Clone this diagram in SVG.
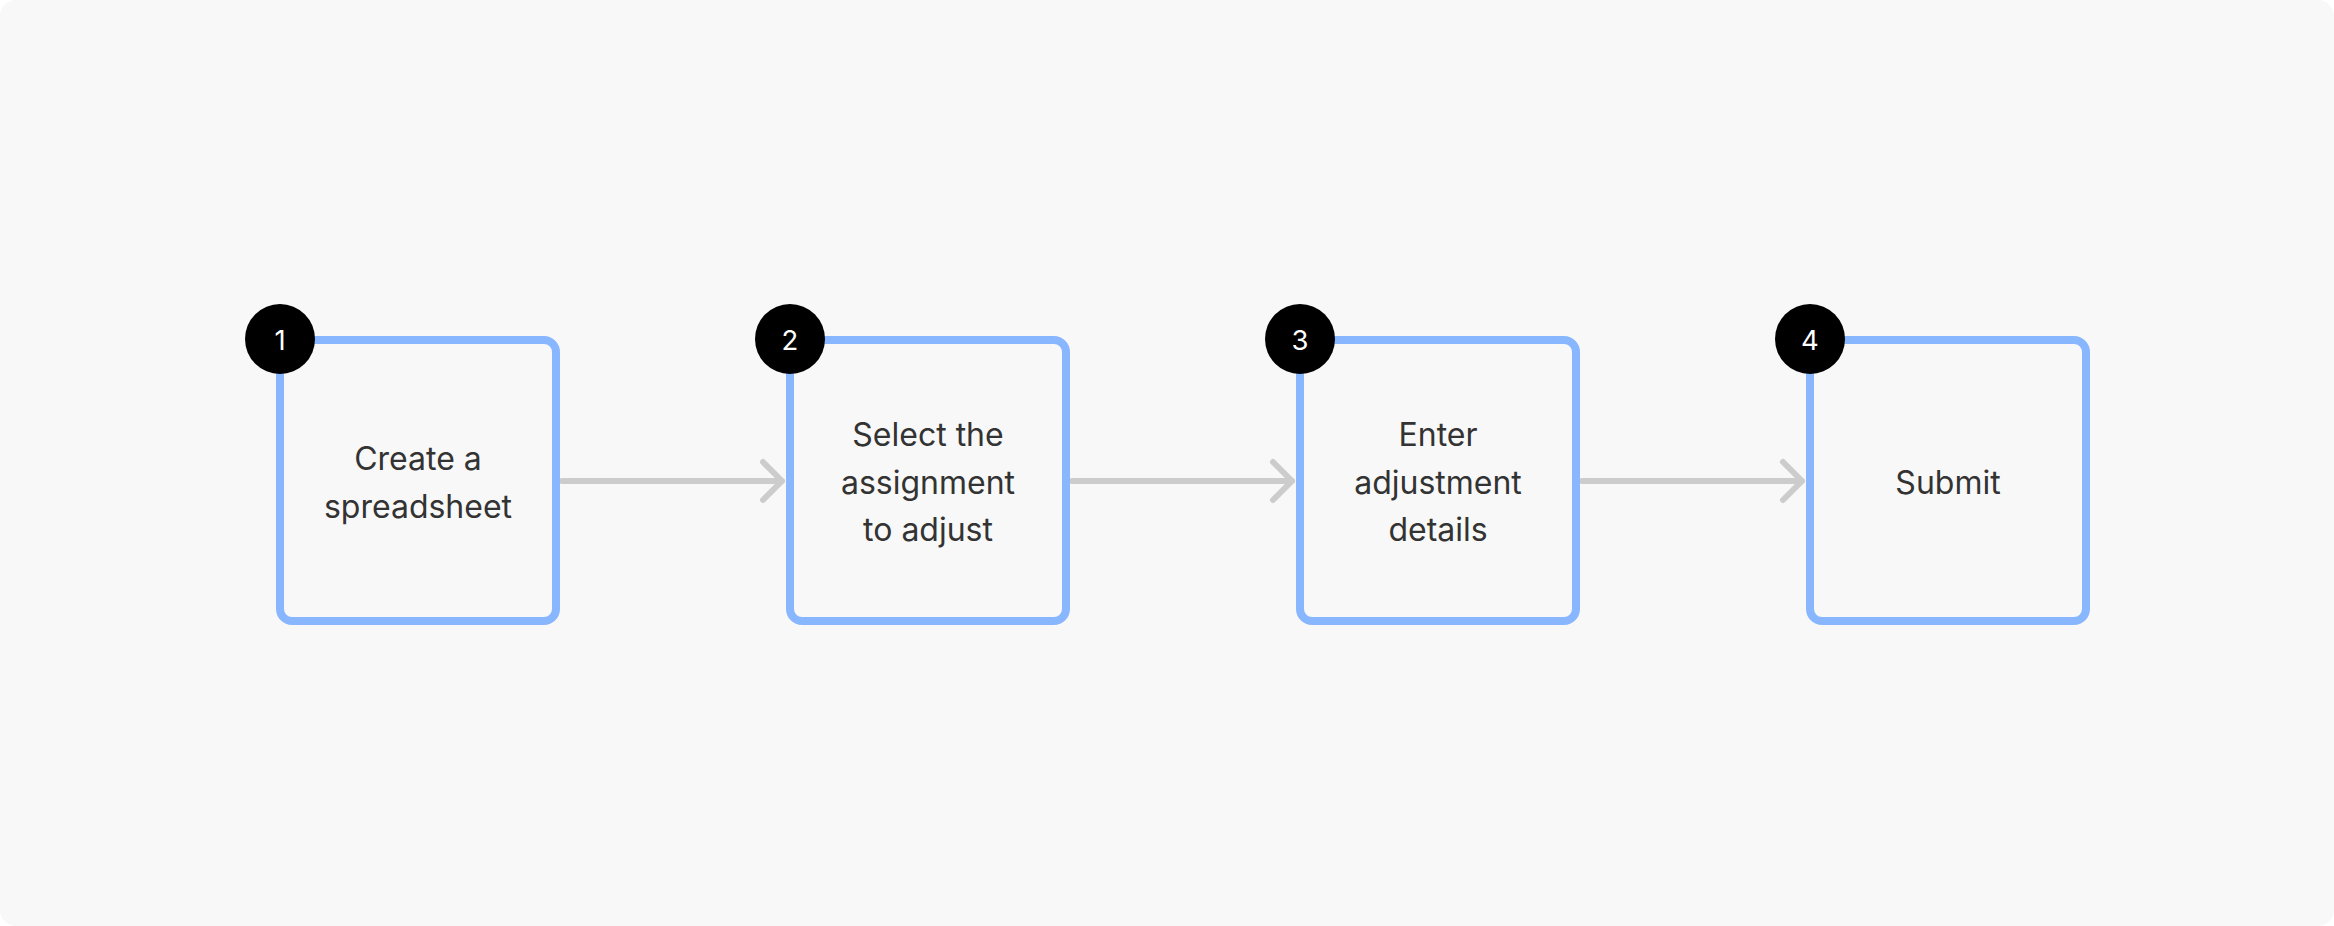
<svg xmlns="http://www.w3.org/2000/svg" width="2334" height="926" viewBox="0 0 2334 926">
<style>
.box{fill:none;stroke:#88b6ff;stroke-width:8}
.badge{fill:#000000}
.num{font-family:Inter,"Noto Sans",sans-serif;font-size:27.5px;fill:#ffffff;text-anchor:middle}
.lbl{font-family:Inter,"Noto Sans",sans-serif;font-size:32px;fill:#333333;text-anchor:middle}
.conn{fill:none;stroke:#cccccc;stroke-width:6;stroke-linecap:round;stroke-linejoin:round}
</style>
<rect x="0" y="0" width="2334" height="926" fill="#ffffff"/>
<rect x="0" y="0" width="2334" height="926" rx="16" fill="#f8f8f8"/>
<g id="connectors">
<path class="conn" d="M562 481 L782 481 M763 462 L782 481 L763 500"/>
<path class="conn" d="M1072 481 L1292 481 M1273 462 L1292 481 L1273 500"/>
<path class="conn" d="M1582 481 L1802 481 M1783 462 L1802 481 L1783 500"/>
</g>
<g id="step1">
<rect class="box" x="280" y="340" width="276" height="281" rx="12"/>
<text class="lbl" x="418" y="470">Create a</text>
<text class="lbl" x="418" y="517.5">spreadsheet</text>
<circle class="badge" cx="280" cy="339" r="35"/>
<text class="num" x="280" y="350">1</text>
</g>
<g id="step2">
<rect class="box" x="790" y="340" width="276" height="281" rx="12"/>
<text class="lbl" x="928" y="446">Select the</text>
<text class="lbl" x="928" y="493.5">assignment</text>
<text class="lbl" x="928" y="541">to adjust</text>
<circle class="badge" cx="790" cy="339" r="35"/>
<text class="num" x="790" y="350">2</text>
</g>
<g id="step3">
<rect class="box" x="1300" y="340" width="276" height="281" rx="12"/>
<text class="lbl" x="1438" y="446">Enter</text>
<text class="lbl" x="1438" y="493.5">adjustment</text>
<text class="lbl" x="1438" y="541">details</text>
<circle class="badge" cx="1300" cy="339" r="35"/>
<text class="num" x="1300" y="350">3</text>
</g>
<g id="step4">
<rect class="box" x="1810" y="340" width="276" height="281" rx="12"/>
<text class="lbl" x="1948" y="494">Submit</text>
<circle class="badge" cx="1810" cy="339" r="35"/>
<text class="num" x="1810" y="350">4</text>
</g>
</svg>
